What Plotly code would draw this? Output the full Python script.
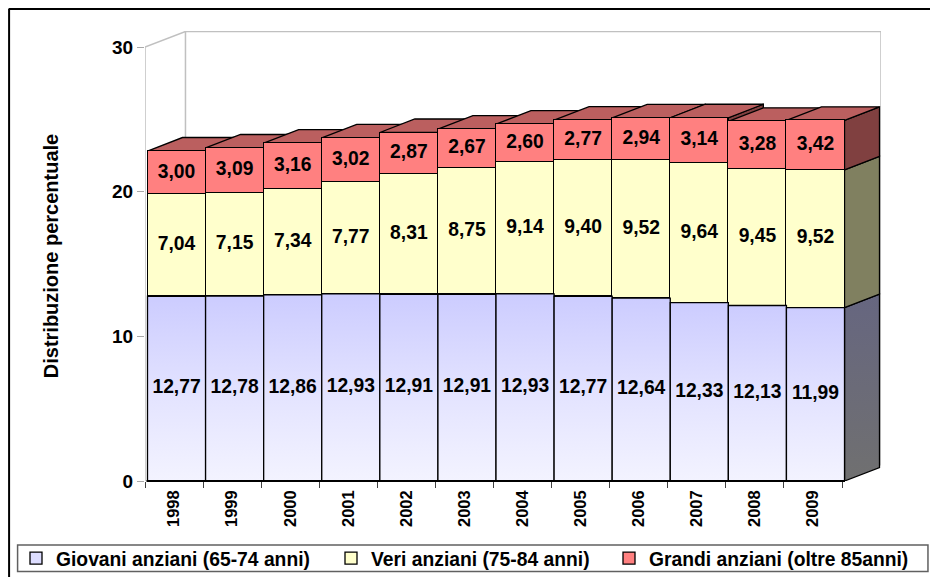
import plotly.graph_objects as go

years = ["1998", "1999", "2000", "2001", "2002", "2003", "2004", "2005", "2006", "2007", "2008", "2009"]
giovani = [12.77, 12.78, 12.86, 12.93, 12.91, 12.91, 12.93, 12.77, 12.64, 12.33, 12.13, 11.99]
veri = [7.04, 7.15, 7.34, 7.77, 8.31, 8.75, 9.14, 9.40, 9.52, 9.64, 9.45, 9.52]
grandi = [3.00, 3.09, 3.16, 3.02, 2.87, 2.67, 2.60, 2.77, 2.94, 3.14, 3.28, 3.42]
series_names = ["Giovani anziani (65-74 anni)", "Veri anziani (75-84 anni)", "Grandi anziani (oltre 85anni)"]
y_ticks = [0, 10, 20, 30]

FONT = "Liberation Sans"
OFF = 8                          # the page's own body margin
W, H = 938 - OFF, 577 - OFF
L, R, T, B = 144.5 - OFF, 881.0 - OFF, 31.0 - OFF, 481.0 - OFF
CAT = (842.0 - 144.5) / 12       # px per category
UNIT = (481.0 - 47.0) / 30       # px per value unit
SHIFT = 2.5 / CAT                # bars sit slightly right of the ticks
DX, DY = 35 / CAT, 13.5 / UNIT   # bar depth
WDX, WDY = 40.5 / CAT, 15.5 / UNIT  # wall depth
xr = [-0.5, -0.5 + (R - L) / CAT]
yr = [0, (B - T) / UNIT]
n = len(years)

base_g = [0.0] * n
base_v = giovani
base_r = [a + b for a, b in zip(giovani, veri)]
top_r = [a + b for a, b in zip(base_r, grandi)]


def px(v):
    return (v - OFF - L) / (R - L)


def py(v):
    return (B - (v - OFF)) / (B - T)


fig = go.Figure()

# walls (main axes)
wall_style = dict(color="#C0C0C0", width=1.5)
wall_x = [-0.5, -0.5, -0.5 + WDX, xr[1], xr[1]]
wall_y = [0, 30, 30 + WDY, 30 + WDY, WDY]
fig.add_trace(go.Scatter(x=wall_x, y=wall_y, mode="lines", line=wall_style, showlegend=False, hoverinfo="skip"))
fig.add_trace(go.Scatter(x=[-0.5 + WDX, -0.5 + WDX], y=[WDY, 30 + WDY], mode="lines", line=wall_style, showlegend=False, hoverinfo="skip"))

edge = dict(color="#000000", width=1.3)


def poly(xs, ys, color=None, gradient=None):
    kw = dict(fillgradient=gradient) if gradient else dict(fillcolor=color)
    fig.add_trace(go.Scatter(x=xs + xs[:1], y=ys + ys[:1], mode="lines", fill="toself", line=edge,
                             showlegend=False, hoverinfo="skip", **kw))


side_grad_blue = dict(type="vertical", colorscale=[[0, "#707070"], [1, "#666680"]])
front_grad_blue = dict(type="vertical", colorscale=[[0, "#F3F3FF"], [0.45, "#E4E4FF"], [1, "#CCCCFF"]])

for i in range(n):
    x1 = i + 0.5 + SHIFT
    x0 = i - 0.5 + SHIFT
    # right-hand side faces
    poly([x1, x1 + DX, x1 + DX, x1], [0, DY, giovani[i] + DY, giovani[i]], gradient=side_grad_blue)
    poly([x1, x1 + DX, x1 + DX, x1], [giovani[i], giovani[i] + DY, base_r[i] + DY, base_r[i]], color="#808060")
    poly([x1, x1 + DX, x1 + DX, x1], [base_r[i], base_r[i] + DY, top_r[i] + DY, top_r[i]], color="#804040")
    # top face
    poly([x0, x0 + DX, x1 + DX, x1], [top_r[i], top_r[i] + DY, top_r[i] + DY, top_r[i]], color="#BB5F5F")

# front faces (overlay axes)
xs_idx = list(range(n))
legend_ids = ["legend", "legend2", "legend3"]
for name, vals, color, leg in zip(series_names, [giovani, veri, grandi], ["#DDDDFF", "#FFFFCC", "#FF8080"], legend_ids):
    fig.add_trace(go.Bar(x=xs_idx, y=vals, name=name, xaxis="x2", yaxis="y2", width=1.0, legend=leg,
                         marker=dict(color=color, line=dict(color="#000000", width=1.3)), hoverinfo="skip"))

# gradient on the lowest series
for i in range(n):
    x0, x1 = i - 0.5, i + 0.5
    fig.add_trace(go.Scatter(x=[x0, x1, x1, x0, x0], y=[0, 0, giovani[i], giovani[i], 0], xaxis="x2", yaxis="y2",
                             mode="lines", fill="toself", fillgradient=front_grad_blue, line=edge,
                             showlegend=False, hoverinfo="skip"))

# data labels
for vals, base in zip([giovani, veri, grandi], [base_g, base_v, base_r]):
    fig.add_trace(go.Scatter(x=xs_idx, y=[b + v / 2 for b, v in zip(base, vals)], xaxis="x2", yaxis="y2",
                             mode="text", text=[f"{v:.2f}".replace(".", ",") for v in vals],
                             textfont=dict(family=FONT, size=19.3, color="#000000", weight="bold"),
                             textposition="middle center", showlegend=False, hoverinfo="skip"))


def legend_at(text_left):
    return dict(orientation="h", xref="container", yref="container", x=(text_left - 41 - OFF) / W, xanchor="left",
                y=1 - (558.5 - OFF) / H, yanchor="middle", bgcolor="rgba(0,0,0,0)",
                font=dict(family=FONT, size=19.3, weight="bold"))


fig.update_layout(
    width=W, height=H, autosize=False,
    margin=dict(l=L, r=W - R, t=T, b=H - B, autoexpand=False),
    paper_bgcolor="#FFFFFF", plot_bgcolor="rgba(0,0,0,0)",
    barmode="stack", bargap=0,
    font=dict(family=FONT, color="#000000"),
    xaxis=dict(range=xr, tickmode="array", tickvals=xs_idx, ticktext=years, tickangle=-90,
               tickfont=dict(family=FONT, size=16.5, weight="bold"), ticks="", showgrid=False, zeroline=False,
               showline=False, ticklabelstandoff=5,
               minor=dict(tickmode="array", tickvals=[i - 0.5 for i in range(n + 1)], ticks="outside", ticklen=6,
                          tickcolor="#404040", tickwidth=1, showgrid=False)),
    yaxis=dict(range=yr, tickmode="array", tickvals=y_ticks, ticks="outside", ticklen=7, tickcolor="#A8A8A8",
               tickfont=dict(family=FONT, size=19, weight="bold"), showgrid=False, zeroline=False, showline=False,
               title=dict(text="Distribuzione percentuale", font=dict(family=FONT, size=20, weight="bold"), standoff=48)),
    xaxis2=dict(range=[r - SHIFT for r in xr], overlaying="x", visible=False),
    yaxis2=dict(range=yr, overlaying="y", visible=False),
    legend=legend_at(57), legend2=legend_at(372), legend3=legend_at(650),
    showlegend=True,
    shapes=[
        dict(type="line", xref="paper", yref="paper", x0=px(8), x1=px(938), y0=py(9), y1=py(9),
             line=dict(color="#000000", width=2)),
        dict(type="line", xref="paper", yref="paper", x0=px(8.5), x1=px(8.5), y0=py(9), y1=py(577),
             line=dict(color="#000000", width=2)),
        dict(type="rect", xref="paper", yref="paper", x0=px(17), x1=px(928), y0=py(545), y1=py(571.5),
             line=dict(color="#606060", width=1.5)),
        dict(type="line", xref="paper", yref="paper", x0=px(146), x1=px(845), y0=0, y1=0,
             line=dict(color="#000000", width=2)),
    ],
)
fig.write_html("out.html")
